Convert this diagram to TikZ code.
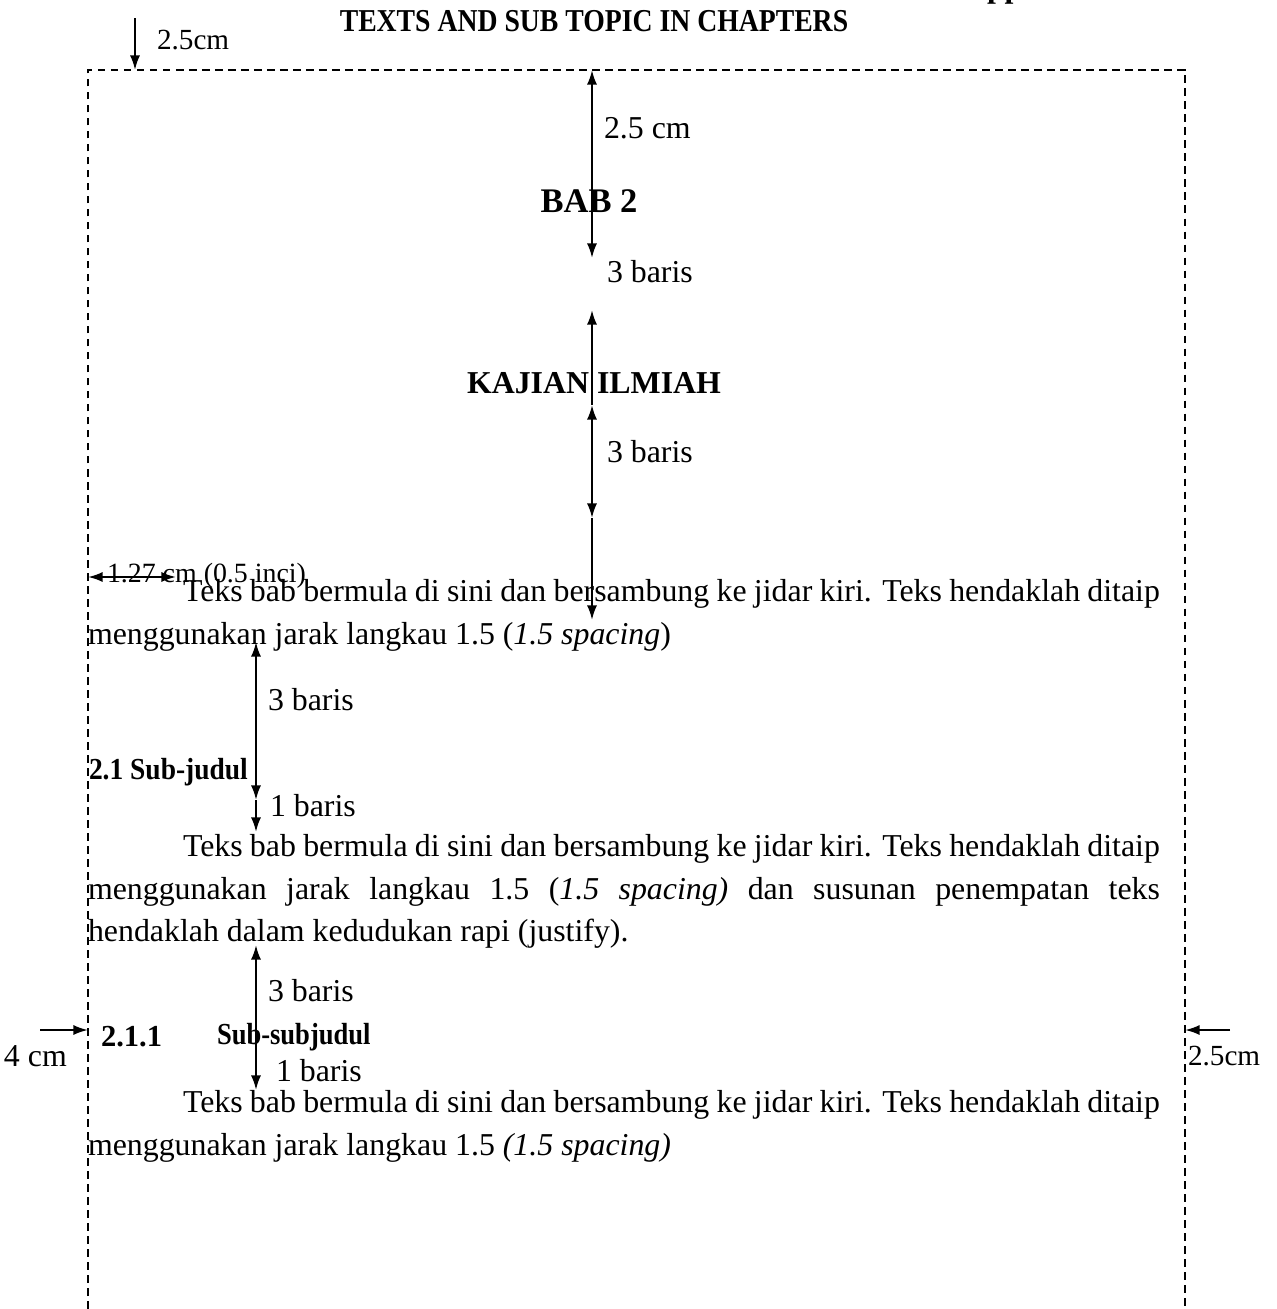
\documentclass[tikz,border=0pt]{standalone}
\usepackage{fontspec}
\setmainfont{Liberation Serif}
\usepackage{graphicx}
\usetikzlibrary{arrows.meta}
\begin{document}
\begin{tikzpicture}[x=0.3767pt,y=-0.3767pt,
  txt/.style={inner sep=0pt, outer sep=0pt, font=\fontsize{12}{14}\selectfont},
  lbl/.style={txt, anchor=west},
  smalllbl/.style={lbl, font=\fontsize{11}{13}\selectfont},
  body/.style={txt, anchor=base west},
  head/.style={txt, font=\fontsize{12}{14}\selectfont\bfseries},
  subhead/.style={txt, anchor=west, font=\fontsize{11.5}{14}\selectfont\bfseries},
  tip/.tip={Latex[length=5.5pt,width=3.8pt]},
  dim/.style={line width=0.8pt, tip-tip},
  dimend/.style={line width=0.8pt, -tip},
  pageframe/.style={line width=0.75pt, dash pattern=on 2.9pt off 2pt}]
\useasboundingbox (0,0) rectangle (1276,1309);

% page frame (dashed margins)
\draw[pageframe] (88,1309) -- (88,70) -- (1185,70) -- (1185,1309);

% title and cut-off line above it
\begin{scope}
  \clip (970,0) rectangle (1040,6);
  \node[head, anchor=base west] (app) at (987,-2) {pp};
\end{scope}
\node[head, anchor=base] (ttl) at (594,32) {\scalebox{0.87}[1]{TEXTS AND SUB TOPIC IN CHAPTERS}};

% top margin arrow
\coordinate (tl1) at (135,18);
\coordinate (tl2) at (135,70);
\draw[dimend] (tl1) -- (tl2);
\node[smalllbl] (m1) at (157,40) {2.5cm};

% central dimension arrows
\coordinate (c0) at (592,70);
\coordinate (c1) at (592,258);
\coordinate (c2) at (592,310);
\coordinate (c3) at (592,405);
\coordinate (c4) at (592,518);
\coordinate (c5) at (592,620);
\draw[dim] (c0) -- (c1);
\draw[dimend] (c3) -- (c2);
\draw[dim] (c3) -- (c4);
\draw[dimend] (c4) -- (c5);

\node[lbl] (m2) at (604,128) {2.5 cm};
\node[head, anchor=center, font=\fontsize{13}{15}\selectfont\bfseries] (bab) at (589,201) {BAB 2};
\node[lbl] (m3) at (607,272) {3 baris};
\node[head, anchor=center] (kaj) at (594,383) {KAJIAN ILMIAH};
\node[lbl] (m4) at (607,452) {3 baris};

% indent arrow
\coordinate (i0) at (88,577);
\coordinate (i1) at (176,577);
\draw[dim] (i0) -- (i1);
\node[lbl, font=\fontsize{10.5}{12}\selectfont] (ind) at (107,576) {1.27 cm (0.5 inci)};

% paragraph 1
\node[body] (p1a) at (183,601) {\makebox[368pt][s]{Teks bab bermula di sini dan bersambung ke jidar kiri. Teks hendaklah ditaip}};
\node[body] (p1b) at (88,644) {menggunakan jarak langkau 1.5 (\textit{1.5 spacing})};

% left dimension arrows
\coordinate (l0) at (256,642);
\coordinate (l1) at (256,800);
\coordinate (l2) at (256,832);
\coordinate (l3) at (256,945);
\coordinate (l4) at (256,1090);
\draw[dim] (l0) -- (l1);
\draw[dimend] (l1) -- (l2);
\draw[dim] (l3) -- (l4);

\node[lbl] (m5) at (268,700) {3 baris};
\node[subhead] (sub1) at (89,772) {\scalebox{0.9}[1]{2.1 Sub-judul}};
\node[lbl] (m6) at (270,806) {1 baris};

% paragraph 2
\node[body] (p2a) at (183,856) {\makebox[368pt][s]{Teks bab bermula di sini dan bersambung ke jidar kiri. Teks hendaklah ditaip}};
\node[body] (p2b) at (88,899) {\makebox[403.8pt][s]{menggunakan jarak langkau 1.5 (\textit{1.5 spacing)} dan susunan penempatan teks}};
\node[body] (p2c) at (88,941) {hendaklah dalam kedudukan rapi (justify).};

\node[lbl] (m7) at (268,991) {3 baris};

% side margin arrows
\coordinate (s0) at (40,1030);
\coordinate (s1) at (88,1030);
\coordinate (s2) at (1230,1030);
\coordinate (s3) at (1185,1030);
\draw[dimend] (s0) -- (s1);
\draw[dimend] (s2) -- (s3);

\node[subhead] (sub2a) at (101,1037) {2.1.1};
\node[subhead] (sub2b) at (217,1037) {\scalebox{0.87}[1]{Sub-subjudul}};
\node[lbl] (m8) at (4,1056) {4 cm};
\node[smalllbl] (m9) at (1188,1056) {2.5cm};
\node[lbl] (m10) at (276,1071) {1 baris};

% paragraph 3
\node[body] (p3a) at (183,1112) {\makebox[368pt][s]{Teks bab bermula di sini dan bersambung ke jidar kiri. Teks hendaklah ditaip}};
\node[body] (p3b) at (88,1155) {menggunakan jarak langkau 1.5 \textit{(1.5 spacing)}};
\end{tikzpicture}
\end{document}
